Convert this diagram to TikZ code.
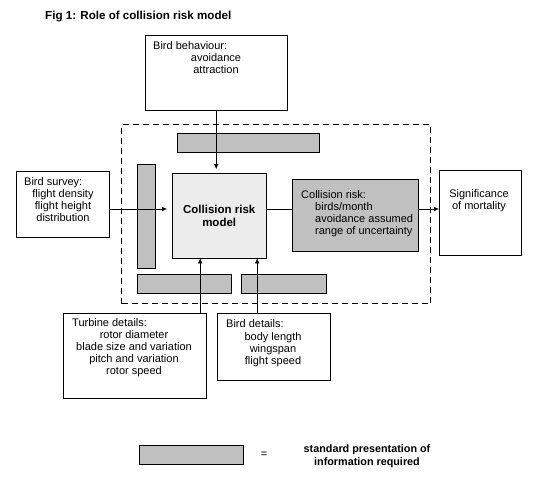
\documentclass[tikz,border=0pt]{standalone}
\usepackage{fontspec}
\setmainfont{Liberation Sans}
\definecolor{bargray}{RGB}{192,192,192}
\definecolor{modelgray}{RGB}{236,236,236}
\usetikzlibrary{arrows.meta}

\begin{document}
\begin{tikzpicture}[x=1pt, y=-1pt, >={Latex[length=5pt,width=4.5pt]},
    box/.style={draw, anchor=north west, inner sep=0},
    bar/.style={box, fill=bargray},
    txt/.style={inner sep=0, font=\fontsize{11}{12}\selectfont, align=center},
    bold/.style={inner sep=0, font=\bfseries\fontsize{10.8}{12.5}\selectfont, align=center}]
    \useasboundingbox (0,0) rectangle (537,495);
    \node[bold, anchor=base west, font=\bfseries\fontsize{11.6}{13}\selectfont] (title) at (45,20) {Fig 1: Role of collision risk model};
    % dashed frame and grey bars
    \node[box, dash pattern=on 6pt off 4pt, line width=1.3pt, minimum width=309pt, minimum height=179pt] (frame) at (121,124) {};
    \node[bar, minimum width=142pt, minimum height=19pt] (bartop) at (177,133) {};
    \node[bar, minimum width=18pt, minimum height=104pt] (barleft) at (137,164) {};
    \node[bar, minimum width=94pt, minimum height=19pt] (barbotl) at (137,274) {};
    \node[bar, minimum width=85pt, minimum height=19pt] (barbotr) at (241,274) {};
    % boxes
    \node[box, minimum width=142pt, minimum height=75pt] (behav) at (145,35) {};
    \node[box, fill=modelgray, minimum width=94pt, minimum height=85pt, anchor=north west, font=\bfseries\fontsize{11.5}{13}\selectfont, align=center] (model) at (172,173) {Collision risk\\model};
    \node[box, minimum width=93pt, minimum height=66pt] (survey) at (16,171) {};
    \node[box, fill=bargray, minimum width=126pt, minimum height=72pt] (risk) at (292,179) {};
    \node[box, minimum width=82pt, minimum height=85pt] (signif) at (439,170) {};
    \node[box, minimum width=143pt, minimum height=85pt] (turbine) at (63,313) {};
    \node[box, minimum width=113pt, minimum height=67pt] (birddet) at (217,313) {};
    % texts
    \node[txt, anchor=base west] (behavhead) at (153,49) {Bird behaviour:};
    \node[txt, anchor=north] (behavlist) at (216,53.2) {avoidance\\attraction};
    \node[txt, anchor=base west] (surveyhead) at (24,185) {Bird survey:};
    \node[txt, anchor=north] (surveylist) at (63,189.2) {flight density\\flight height\\distribution};
    \node[txt, anchor=base west] (riskhead) at (301,198) {Collision risk:};
    \node[txt, anchor=north west, align=left] (risklist) at (315,202.2) {birds/month\\avoidance assumed\\range of uncertainty};
    \node[txt, anchor=north] (signiftext) at (479,189.2) {Significance\\of mortality};
    \node[txt, anchor=base west] (turbhead) at (72,326) {Turbine details:};
    \node[txt, anchor=north] (turblist) at (134,330.2) {rotor diameter\\blade size and variation\\pitch and variation\\rotor speed};
    \node[txt, anchor=base west] (birdhead) at (226,327) {Bird details:};
    \node[txt, anchor=north] (birdlist) at (273,332.2) {body length\\wingspan\\flight speed};
    % connectors
    \coordinate (midline) at (0,209);
    \coordinate (turbin) at ([xshift=-19pt]model.south);
    \coordinate (birdin) at ([xshift=38pt]model.south);
    \draw[->, shorten >=4pt] (behav.south) -- (behav.south |- model.north);
    \draw[->, shorten >=5pt] (survey.east |- midline) -- (model.west |- midline);
    \draw (model.east |- midline) -- (risk.west |- midline);
    \draw[->] (risk.east |- midline) -- (signif.west |- midline);
    \draw[->] (turbine.north -| turbin) -- (turbin);
    \draw[->] (birddet.north -| birdin) -- (birdin);
    % legend
    \node[bar, minimum width=104pt, minimum height=19pt] (legbar) at (139,445) {};
    \node[txt] (legeq) at (264,455) {=};
    \node[bold, anchor=north] (legtext) at (367,444.6) {standard presentation of\\information required};
\end{tikzpicture}
\end{document}
